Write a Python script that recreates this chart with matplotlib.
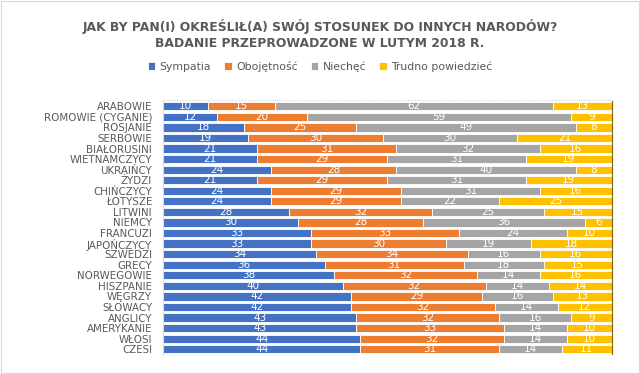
import matplotlib
matplotlib.use("Agg")
import matplotlib.pyplot as plt
import numpy as np

categories = ["ARABOWIE", "ROMOWIE (CYGANIE)", "ROSJANIE", "SERBOWIE", "BIAŁORUSINI",
              "WIETNAMCZYCY", "UKRAIŃCY", "ŻYDZI", "CHIŃCZYCY", "ŁOTYSZE", "LITWINI",
              "NIEMCY", "FRANCUZI", "JAPOŃCZYCY", "SZWEDZI", "GRECY", "NORWEGOWIE",
              "HISZPANIE", "WĘGRZY", "SŁOWACY", "ANGLICY", "AMERYKANIE", "WŁOSI", "CZESI"]
sympatia = [10, 12, 18, 19, 21, 21, 24, 21, 24, 24, 28, 30, 33, 33, 34, 36, 38, 40, 42, 42, 43, 43, 44, 44]
obojetnosc = [15, 20, 25, 30, 31, 29, 28, 29, 29, 29, 32, 28, 33, 30, 34, 31, 32, 32, 29, 32, 32, 33, 32, 31]
niechec = [62, 59, 49, 30, 32, 31, 40, 31, 31, 22, 25, 36, 24, 19, 16, 18, 14, 14, 16, 14, 16, 14, 14, 14]
trudno = [13, 9, 8, 21, 16, 19, 8, 19, 16, 25, 15, 6, 10, 18, 16, 15, 16, 14, 13, 12, 9, 10, 10, 11]
series_names = ["Sympatia", "Obojętność", "Niechęć", "Trudno powiedzieć"]
colors = ["#4472C4", "#ED7D31", "#A5A5A5", "#FFC000"]

data = np.array([sympatia, obojetnosc, niechec, trudno], dtype=float)
totals = data.sum(axis=0)
pct = data / totals * 100

fig = plt.figure(figsize=(6.4, 3.74), dpi=100)
ax = fig.add_axes([0.255, 0.052, 0.704, 0.678])
y = np.arange(len(categories))
left = np.zeros(len(categories))
for i in range(4):
    ax.barh(y, pct[i], left=left, height=0.78, color=colors[i],
            edgecolor="white", linewidth=0.6, label=series_names[i], zorder=2)
    for j in range(len(categories)):
        ax.text(left[j] + pct[i][j] / 2, y[j], f"{int(data[i][j])}", ha="center", va="center",
                color="white", fontsize=7.5, zorder=3)
    left += pct[i]

ax.set_ylim(len(categories) - 0.5, -0.5)
ax.set_xlim(0, 100.5)
ax.axvline(100, color="#7f6000", lw=0.8, zorder=3)
ax.axhline(-0.55, color="#D9D9D9", lw=0.8, ls=(0, (1, 1)), zorder=1, clip_on=False)
ax.set_yticks(y)
ax.set_yticklabels(categories, fontsize=7.4, color="#595959")
ax.tick_params(axis="y", length=0, pad=8)
ax.set_xticks([])
for s in ["top", "right", "bottom"]:
    ax.spines[s].set_visible(False)
ax.spines["left"].set_color("#D9D9D9")
ax.spines["left"].set_linewidth(0.8)

fig.text(0.5, 0.928, "JAK BY PAN(I) OKREŚLIŁ(A) SWÓJ STOSUNEK DO INNYCH NARODÓW?",
         ha="center", va="center", fontsize=8.9, fontweight="bold", color="#595959")
fig.text(0.5, 0.884, "BADANIE PRZEPROWADZONE W LUTYM 2018 R.",
         ha="center", va="center", fontsize=8.9, fontweight="bold", color="#595959")
fig.legend(loc="center", bbox_to_anchor=(0.5, 0.822), ncol=4, frameon=False,
           fontsize=7.8, handlelength=0.7, handleheight=0.7, columnspacing=1.2,
           handletextpad=0.4, labelcolor="#595959")

border = plt.Rectangle((0.002, 0.003), 0.996, 0.994, transform=fig.transFigure,
                       fill=False, edgecolor="#D9D9D9", lw=0.8)
fig.add_artist(border)
fig.savefig("out.png", dpi=100, facecolor="white")
